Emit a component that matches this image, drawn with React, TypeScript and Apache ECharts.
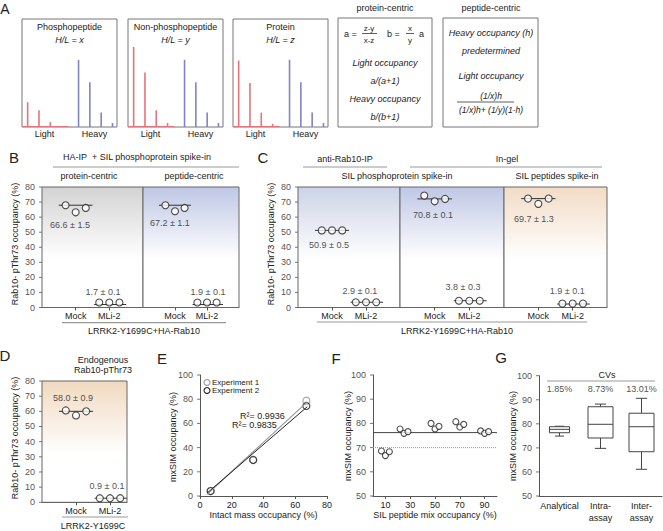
import React, { useEffect, useRef } from "react";
import * as echarts from "echarts";

const FONT = "'Liberation Sans', Arial, Helvetica, sans-serif";
const INK = "#222";
const AXIS = "#555";
const RED = "#e4737b";
const BLUE = "#8282c8";

// ---------- Panel A : spectra ----------
const peakMz = [0, 1, 2, 3, 4.5, 5.5, 6.5, 7.5];
const spectraTitles = ["Phosphopeptide", "Non-phosphopeptide", "Protein"];
const spectraRatios = ["H/L = x", "H/L = y", "H/L = z"];
const lightIntensity = [
  [31, 21, 6, 1],
  [100, 68, 21, 5],
  [83, 55, 18, 4],
];
const heavyIntensity = [
  [84, 56, 18, 5],
  [84, 56, 18, 5],
  [84, 56, 18, 5],
];
const spectraAxisLabels = ["Light", "Heavy"];
const spectraAxisAt = [1.5, 5.9];

// ---------- Panels B, C, D ----------
const treatments = ["Mock", "MLi-2"];
const occupancyTicks = [0, 10, 20, 30, 40, 50, 60, 70, 80];
const mockValues = [
  [67.9, 63.2, 66.1],
  [67.9, 63.9, 66.1],
  [51.2, 51.2, 51.2],
  [74.3, 70.5, 72.1],
  [72.3, 68.8, 72.3],
  [60.6, 57.3, 60.0],
];
const mliValues = [
  [3.3, 3.3, 3.3],
  [3.3, 3.3, 3.3],
  [3.5, 3.5, 3.5],
  [4.5, 4.5, 4.5],
  [2.6, 2.6, 2.6],
  [2.7, 2.7, 2.7],
];
const mockLines = [67.9, 67.9, 51.2, 72.1, 72.3, 60.0];
const mliLines = [2.0, 2.0, 3.5, 4.5, 2.3, 2.7];
const mockLabels = ["66.6 ± 1.5", "67.2 ± 1.1", "50.9 ± 0.5", "70.8 ± 0.1", "69.7 ± 1.3", "58.0 ± 0.9"];
const mliLabels = ["1.7 ± 0.1", "1.9 ± 0.1", "2.9 ± 0.1", "3.8 ± 0.3", "1.9 ± 0.1", "0.9 ± 0.1"];

// ---------- Panel E ----------
const eLegend = ["Experiment 1", "Experiment 2"];
const eExp1 = [[6.7, 4.1], [33.5, 30.0], [67, 78.8]];
const eExp2 = [[6.7, 4.1], [33.5, 29.7], [67, 74.4]];
const eFit1 = [[4.5, 1.5], [67.6, 77.8]];
const eFit2 = [[4.5, 2.5], [67.6, 73.8]];
const eR2 = ["R²= 0.9936", "R²= 0.9835"];
const eXTicks = [0, 20, 40, 60, 80];
const eYTicks = [0, 20, 40, 60, 80, 100];

// ---------- Panel F ----------
const fLevels = [10, 25, 50, 70, 90];
const fValues = [
  [68.6, 66.7, 68.3],
  [77.7, 75.9, 76.6],
  [80.0, 77.7, 78.8],
  [80.7, 78.5, 79.6],
  [76.9, 75.9, 76.6],
];
const fTicks = [10, 30, 50, 70, 90];
const fMeasured = 76.2;
const fExpected = 70;
const mxTicks = [50, 60, 70, 80, 90, 100];

// ---------- Panel G ----------
const gCategories = ["Analytical", "Intra-\nassay", "Inter-\nassay"];
// [min, Q1, median, Q3, max]
const gBoxes = [
  [74.9, 76.3, 77.7, 78.8, 79.0],
  [69.8, 74.1, 79.8, 87.1, 88.2],
  [61.1, 68.4, 78.8, 84.4, 90.6],
];
const gCVs = ["1.85%", "8.73%", "13.01%"];

// ---------- layout (positions / styles only) ----------
const spectraGrids = [
  { left: 22, top: 19, width: 95, height: 108 },
  { left: 128, top: 19, width: 95, height: 108 },
  { left: 233, top: 19, width: 95, height: 108 },
];
const sectionGrids = [
  { left: 42, top: 187, width: 101, height: 120.5 },
  { left: 143, top: 187, width: 96, height: 120.5 },
  { left: 298, top: 187, width: 102, height: 120.5 },
  { left: 400, top: 187, width: 104, height: 120.5 },
  { left: 504, top: 187, width: 103, height: 120.5 },
  { left: 42, top: 381, width: 85, height: 121.3 },
];
const sectionXMax = [3, 3, 3, 3, 3, 2.5];
const sectionShowY = [true, false, true, false, false, true];
const sectionTop = ["#d3d3d3", "#bfc7e5", "#cdd3e7", "#bfc7e5", "#f2dcc6", "#f1d9c0"];
const mockLabelPos = [[0.83, 55], [0.84, 56.3], [0.91, 41.7], [0.95, 61.7], [0.87, 59], [0.91, 68.8]];
const mliLabelPos = [[1.81, 10.3], [2.03, 10.3], [1.82, 11.2], [1.82, 13.9], [1.84, 11.2], [1.91, 10.8]];
const jitter = [-0.3, 0, 0.3];
const fJitter = [-3.2, 0, 3.2];
const gBoxWidths = [20, 25, 25];

const T = (x: number, y: number, text: string, o: any = {}) => ({
  type: "text",
  x,
  y,
  rotation: o.rot || 0,
  silent: true,
  style: {
    text,
    fill: o.fill || INK,
    fontSize: o.size || 9,
    fontFamily: FONT,
    fontStyle: o.italic ? "italic" : "normal",
    align: o.align || "center",
    verticalAlign: "middle",
  },
});
const L = (x1: number, y1: number, x2: number, y2: number, o: any = {}) => ({
  type: "line",
  silent: true,
  shape: { x1, y1, x2, y2 },
  style: { stroke: o.stroke || "#999", lineWidth: o.w || 1.2 },
});
const R = (x: number, y: number, width: number, height: number) => ({
  type: "rect",
  silent: true,
  shape: { x, y, width, height },
  style: { fill: "none", stroke: "#777", lineWidth: 1 },
});

const lbl = (extra: any = {}) => ({
  show: true,
  fontSize: 9,
  color: INK,
  fontFamily: FONT,
  margin: 4,
  ...extra,
});
const tick = (extra: any = {}) => ({ show: true, length: 3, lineStyle: { color: AXIS }, ...extra });
const axisLine = () => ({ show: true, lineStyle: { color: AXIS } });

// y-axis ticks + labels drawn as a marker series on the axis' own scale
const yTickSeries = (xi: number, yi: number, xAt: number, ticks: number[]) => ({
  type: "scatter",
  xAxisIndex: xi,
  yAxisIndex: yi,
  clip: false,
  silent: true,
  symbol: "rect",
  symbolSize: [3, 1],
  symbolOffset: [-1.5, 0],
  itemStyle: { color: AXIS },
  z: 4,
  label: {
    show: true,
    position: "left",
    distance: 4,
    fontSize: 9,
    color: INK,
    fontFamily: FONT,
    formatter: (p: any) => String(p.value[1]),
  },
  data: ticks.map((v) => [xAt, v]),
});

function buildOption() {
  const grids: any[] = [];
  const xAxes: any[] = [];
  const yAxes: any[] = [];
  const series: any[] = [];
  const labelStyle = { fontSize: 9, color: INK, fontFamily: FONT };
  const hiddenYLabels = { axisLabel: { show: false }, axisTick: { show: false } };

  // Panel A spectra
  spectraGrids.forEach((g, k) => {
    grids.push({ ...g, show: true, borderColor: "#777", borderWidth: 1, backgroundColor: "#fff" });
    xAxes.push({
      type: "value",
      gridIndex: k,
      min: -0.5,
      max: 7.9,
      axisLine: { show: false },
      axisTick: { show: false },
      splitLine: { show: false },
      axisLabel: lbl({
        margin: 2,
        customValues: spectraAxisAt,
        formatter: (v: number) => spectraAxisLabels[spectraAxisAt.indexOf(v)] || "",
      }),
    });
    yAxes.push({ type: "value", gridIndex: k, min: 0, max: 135, show: false });
    series.push({
      type: "bar",
      xAxisIndex: k,
      yAxisIndex: k,
      barWidth: 1.6,
      data: peakMz.map((mz, i) => ({
        value: [mz, i < 4 ? lightIntensity[k][i] : heavyIntensity[k][i - 4]],
        itemStyle: { color: i < 4 ? RED : BLUE },
      })),
    });
    series.push({
      type: "line",
      xAxisIndex: k,
      yAxisIndex: k,
      symbol: "none",
      data: [[-0.5, 0.6], [3.6, 0.6]],
      lineStyle: { color: RED, width: 1.2 },
    });
  });

  // Panels B, C, D
  sectionGrids.forEach((g, s) => {
    const gi = grids.length;
    grids.push({
      ...g,
      show: true,
      borderColor: "#666",
      borderWidth: 1,
      backgroundColor: {
        type: "linear",
        x: 0,
        y: 0,
        x2: 0,
        y2: 1,
        colorStops: [
          { offset: 0, color: sectionTop[s] },
          { offset: 0.6, color: "#ffffff" },
          { offset: 1, color: "#ffffff" },
        ],
      },
    });
    xAxes.push({
      type: "value",
      gridIndex: gi,
      min: 0,
      max: sectionXMax[s],
      splitLine: { show: false },
      axisLine: { show: true, lineStyle: { color: "#666" } },
      axisTick: tick({ customValues: [1, 2] }),
      axisLabel: lbl({ customValues: [1, 2], formatter: (v: number) => treatments[v - 1] || "" }),
    });
    yAxes.push({ type: "value", gridIndex: gi, min: 0, max: 80, interval: 10, show: false });
    if (sectionShowY[s]) series.push(yTickSeries(gi, gi, 0, occupancyTicks));
    const lineStyle = { color: "#333", width: 1 };
    series.push({ type: "line", xAxisIndex: gi, yAxisIndex: gi, symbol: "none", z: 2, data: [[0.5, mockLines[s]], [1.5, mockLines[s]]], lineStyle });
    series.push({ type: "line", xAxisIndex: gi, yAxisIndex: gi, symbol: "none", z: 2, data: [[1.55, mliLines[s]], [2.5, mliLines[s]]], lineStyle });
    const circ = { color: "#fff", borderColor: "#222", borderWidth: 1.1 };
    series.push({ type: "scatter", xAxisIndex: gi, yAxisIndex: gi, symbolSize: 7, z: 3, itemStyle: circ, data: jitter.map((o, i) => [1 + o, mockValues[s][i]]) });
    series.push({ type: "scatter", xAxisIndex: gi, yAxisIndex: gi, symbolSize: 7, z: 3, itemStyle: circ, data: jitter.map((o, i) => [2 + o, mliValues[s][i]]) });
    series.push({
      type: "scatter",
      xAxisIndex: gi,
      yAxisIndex: gi,
      symbolSize: 1,
      itemStyle: { color: "rgba(0,0,0,0)" },
      label: { show: true, position: "inside", formatter: "{b}", ...labelStyle },
      data: [
        { name: mockLabels[s], value: mockLabelPos[s] },
        { name: mliLabels[s], value: mliLabelPos[s] },
      ],
    });
  });

  // Panel E
  const ei = grids.length;
  grids.push({ left: 200, top: 375, width: 127, height: 121 });
  xAxes.push({
    type: "value",
    gridIndex: ei,
    min: 0,
    max: 80,
    interval: 20,
    splitLine: { show: false },
    axisLine: axisLine(),
    axisTick: tick({ customValues: eXTicks }),
    axisLabel: lbl({ customValues: eXTicks }),
    name: "Intact mass occupancy (%)",
    nameLocation: "middle",
    nameGap: 14,
    nameTextStyle: { ...labelStyle },
  });
  yAxes.push({ type: "value", gridIndex: ei, min: 0, max: 100, interval: 20, splitLine: { show: false }, axisLine: axisLine(), ...hiddenYLabels });
  series.push(yTickSeries(ei, ei, 0, eYTicks));
  series.push({ type: "line", xAxisIndex: ei, yAxisIndex: ei, symbol: "none", data: eFit1, lineStyle: { color: "#999", width: 1.2 } });
  series.push({ type: "line", xAxisIndex: ei, yAxisIndex: ei, symbol: "none", data: eFit2, lineStyle: { color: "#222", width: 1 } });
  series.push({ type: "scatter", name: eLegend[0], xAxisIndex: ei, yAxisIndex: ei, symbolSize: 7, data: eExp1, itemStyle: { color: "#fff", borderColor: "#999", borderWidth: 1.2 } });
  series.push({ type: "scatter", name: eLegend[1], xAxisIndex: ei, yAxisIndex: ei, symbolSize: 7, data: eExp2, itemStyle: { color: "rgba(255,255,255,0)", borderColor: "#222", borderWidth: 1.2 } });

  // Panel F
  const fi = grids.length;
  grids.push({ left: 373, top: 375, width: 124, height: 121 });
  xAxes.push({
    type: "value",
    gridIndex: fi,
    min: 0,
    max: 100,
    splitLine: { show: false },
    axisLine: axisLine(),
    axisTick: tick({ customValues: fTicks }),
    axisLabel: lbl({ customValues: fTicks }),
    name: "SIL peptide mix occupancy (%)",
    nameLocation: "middle",
    nameGap: 14,
    nameTextStyle: { ...labelStyle },
  });
  yAxes.push({ type: "value", gridIndex: fi, min: 50, max: 100, interval: 10, splitLine: { show: false }, axisLine: axisLine(), ...hiddenYLabels });
  series.push(yTickSeries(fi, fi, 0, mxTicks));
  series.push({ type: "line", xAxisIndex: fi, yAxisIndex: fi, symbol: "none", data: [[0, fExpected], [100, fExpected]], lineStyle: { color: "#999", width: 1, type: "dotted" } });
  series.push({ type: "line", xAxisIndex: fi, yAxisIndex: fi, symbol: "none", data: [[0, fMeasured], [100, fMeasured]], lineStyle: { color: "#444", width: 1 } });
  fLevels.forEach((lv, gIdx) => {
    series.push({
      type: "scatter",
      xAxisIndex: fi,
      yAxisIndex: fi,
      symbolSize: 6,
      z: 3,
      itemStyle: { color: "#fff", borderColor: "#222", borderWidth: 1.1 },
      data: fJitter.map((o, i) => [lv + o, fValues[gIdx][i]]),
    });
  });

  // Panel G
  const gi = grids.length;
  grids.push({ left: 539, top: 375.7, width: 123, height: 120.3 });
  xAxes.push({
    type: "category",
    gridIndex: gi,
    data: gCategories,
    splitLine: { show: false },
    axisLine: axisLine(),
    axisTick: { show: false },
    axisLabel: lbl({ interval: 0, lineHeight: 12 }),
  });
  const gxHelper = xAxes.length;
  xAxes.push({ type: "value", gridIndex: gi, min: 0, max: 1, show: false });
  yAxes.push({ type: "value", gridIndex: gi, min: 50, max: 100, interval: 10, splitLine: { show: false }, axisLine: axisLine(), ...hiddenYLabels });
  series.push(yTickSeries(gxHelper, gi, 0, mxTicks));
  series.push({
    type: "custom",
    xAxisIndex: gi,
    yAxisIndex: gi,
    data: gBoxes.map((b, i) => [i, ...b]),
    renderItem: (params: any, api: any) => {
      const x = api.value(0);
      const lo = api.coord([x, api.value(1)]);
      const q1 = api.coord([x, api.value(2)]);
      const md = api.coord([x, api.value(3)]);
      const q3 = api.coord([x, api.value(4)]);
      const hi = api.coord([x, api.value(5)]);
      const bw = gBoxWidths[params.dataIndex];
      const cap = bw * 0.45;
      const st = { stroke: "#444", lineWidth: 1, fill: "none" };
      const cx = lo[0];
      return {
        type: "group",
        children: [
          { type: "line", shape: { x1: cx, y1: hi[1], x2: cx, y2: q3[1] }, style: st },
          { type: "line", shape: { x1: cx, y1: q1[1], x2: cx, y2: lo[1] }, style: st },
          { type: "line", shape: { x1: cx - cap / 2, y1: hi[1], x2: cx + cap / 2, y2: hi[1] }, style: st },
          { type: "line", shape: { x1: cx - cap / 2, y1: lo[1], x2: cx + cap / 2, y2: lo[1] }, style: st },
          { type: "rect", shape: { x: cx - bw / 2, y: q3[1], width: bw, height: q1[1] - q3[1] }, style: { ...st, fill: "#fff" } },
          { type: "line", shape: { x1: cx - bw / 2, y1: md[1], x2: cx + bw / 2, y2: md[1] }, style: st },
        ],
      };
    },
  });
  series.push({
    type: "scatter",
    xAxisIndex: gi,
    yAxisIndex: gi,
    symbolSize: 1,
    itemStyle: { color: "rgba(0,0,0,0)" },
    label: { show: true, position: "inside", formatter: "{b}", ...labelStyle },
    data: gCVs.map((c, i) => ({ name: c, value: [i, 94.4] })),
  });

  // ---------- graphic texts / decorations ----------
  const el: any[] = [];
  el.push(T(5, 9, "A", { size: 14 }));
  el.push(T(14, 157, "B", { size: 15 }));
  el.push(T(263, 157, "C", { size: 15 }));
  el.push(T(5, 355, "D", { size: 15 }));
  el.push(T(162, 358, "E", { size: 15 }));
  el.push(T(336, 358, "F", { size: 15 }));
  el.push(T(501, 357, "G", { size: 15 }));

  const rot = Math.PI / 2;
  el.push(T(15, 244, "Rab10- pThr73 occupancy (%)", { rot }));
  el.push(T(271, 244, "Rab10- pThr73 occupancy (%)", { rot }));
  el.push(T(15, 438, "Rab10- pThr73 occupancy (%)", { rot }));
  el.push(T(173, 437, "mxSIM occupancy (%)", { rot }));
  el.push(T(348, 436, "mxSIM occupancy (%)", { rot }));
  el.push(T(513, 436, "mxSIM occupancy (%)", { rot }));

  spectraGrids.forEach((g, k) => {
    const cx = g.left + g.width / 2;
    el.push(T(cx, 27, spectraTitles[k]));
    el.push(T(cx, 40, spectraRatios[k], { italic: true }));
  });

  el.push(T(385, 8, "protein-centric"));
  el.push(T(491, 8, "peptide-centric"));
  el.push(R(338, 18, 94, 109));
  el.push(R(443, 18, 95, 109));
  el.push(T(344, 34, "a =", { align: "left" }));
  el.push(T(369, 28, "z-y", { size: 8 }));
  el.push(L(362, 33.5, 377, 33.5, { stroke: "#333", w: 0.8 }));
  el.push(T(369, 40, "x-z", { size: 8 }));
  el.push(T(387, 34, "b =", { align: "left" }));
  el.push(T(410, 28, "x", { size: 8 }));
  el.push(L(406, 33.5, 414, 33.5, { stroke: "#333", w: 0.8 }));
  el.push(T(410, 40, "y", { size: 8 }));
  el.push(T(419, 34, "a", { align: "left" }));
  el.push(T(385, 63, "Light occupancy", { italic: true }));
  el.push(T(385, 81, "a/(a+1)", { italic: true }));
  el.push(T(385, 99, "Heavy occupancy", { italic: true }));
  el.push(T(385, 117, "b/(b+1)", { italic: true }));
  el.push(T(491, 33, "Heavy occupancy (h)", { italic: true }));
  el.push(T(491, 51, "predetermined", { italic: true }));
  el.push(T(491, 76, "Light occupancy", { italic: true }));
  el.push(T(491, 96, "(1/x)h", { italic: true, size: 8.5 }));
  el.push(L(457, 102, 514, 102, { stroke: "#333", w: 0.8 }));
  el.push(T(491, 110, "(1/x)h+ (1/y)(1-h)", { italic: true, size: 8.5 }));

  el.push(T(137, 157, "HA-IP  + SIL phosphoprotein spike-in"));
  el.push(L(53, 167, 239, 167));
  el.push(T(89, 176, "protein-centric"));
  el.push(T(194, 176, "peptide-centric"));
  el.push(L(62, 322.7, 226, 322.7));
  el.push(T(144, 331, "LRRK2-Y1699C+HA-Rab10"));

  el.push(T(345, 159, "anti-Rab10-IP"));
  el.push(L(303, 167, 387, 167));
  el.push(T(507, 159, "In-gel"));
  el.push(L(410, 167, 602, 167));
  el.push(T(397, 175.5, "SIL phosphoprotein spike-in"));
  el.push(T(557, 175.5, "SIL peptides spike-in"));
  el.push(L(317, 322, 587, 322));
  el.push(T(457, 331, "LRRK2-Y1699C+HA-Rab10"));

  el.push(T(103, 360, "Endogenous"));
  el.push(T(103, 370, "Rab10-pThr73"));
  el.push(L(62, 517, 128, 517));
  el.push(T(93, 526, "LRRK2-Y1699C"));

  el.push({ type: "circle", silent: true, shape: { cx: 207, cy: 382.5, r: 3 }, style: { fill: "#fff", stroke: "#999", lineWidth: 1.1 } });
  el.push({ type: "circle", silent: true, shape: { cx: 207, cy: 390.5, r: 3 }, style: { fill: "#fff", stroke: "#222", lineWidth: 1.1 } });
  el.push(T(212, 382.5, eLegend[0], { align: "left", size: 8 }));
  el.push(T(212, 390.5, eLegend[1], { align: "left", size: 8 }));
  el.push(T(240, 416, eR2[0], { align: "left" }));
  el.push(T(232, 425, eR2[1], { align: "left" }));

  el.push(T(607, 375, "CVs"));
  el.push(L(547, 381, 655, 381));

  return {
    animation: false,
    backgroundColor: "#fff",
    textStyle: { fontFamily: FONT },
    grid: grids,
    xAxis: xAxes,
    yAxis: yAxes,
    series,
    graphic: { elements: el },
  };
}

export default function App() {
  const ref = useRef<HTMLDivElement>(null);
  useEffect(() => {
    if (!ref.current) return;
    const chart = echarts.init(ref.current, undefined, { renderer: "svg" });
    chart.setOption(buildOption() as any);
    return () => chart.dispose();
  }, []);
  return <div ref={ref} style={{ position: "absolute", left: 0, top: 0, width: 663, height: 531 }} />;
}
